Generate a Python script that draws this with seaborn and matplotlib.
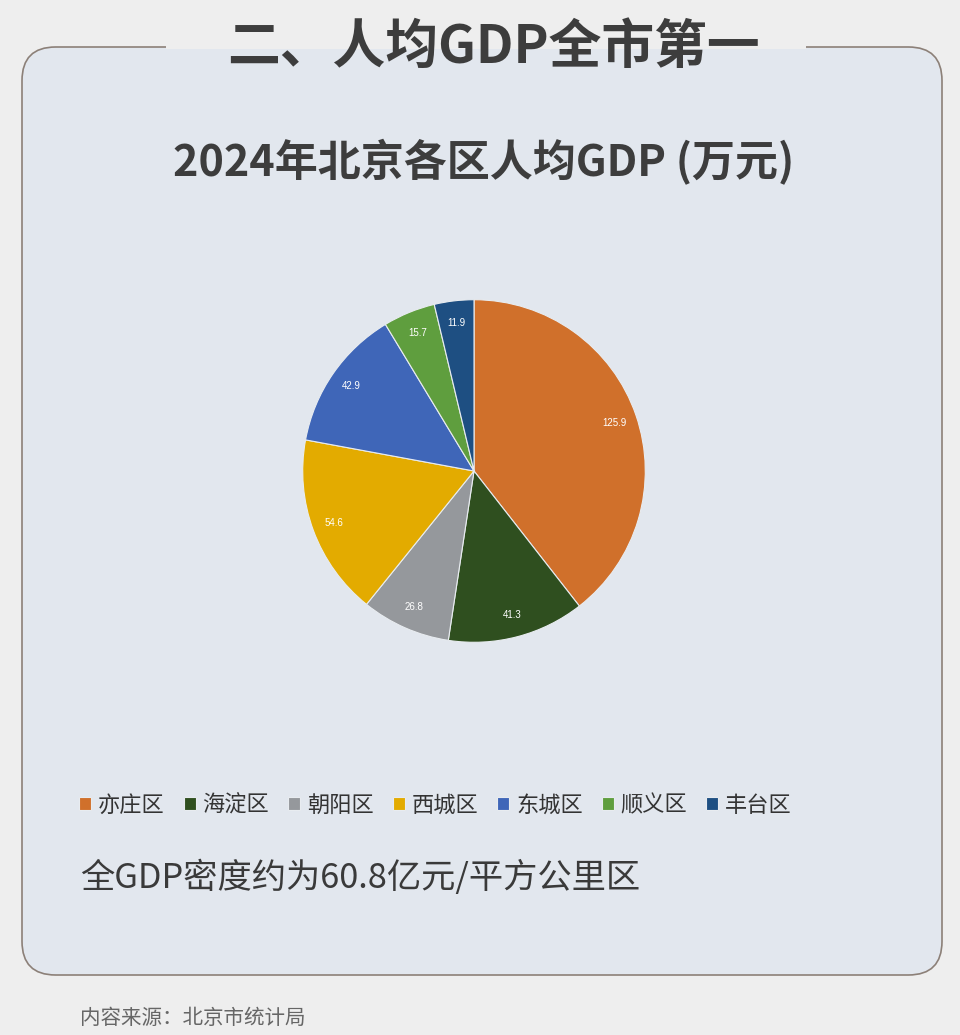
import numpy as np
import pandas as pd
import matplotlib
matplotlib.use("Agg")
import matplotlib.pyplot as plt
import seaborn as sns
from matplotlib.patches import FancyBboxPatch, Rectangle

# data
districts = ["亦庄区", "海淀区", "朝阳区", "西城区", "东城区", "顺义区", "丰台区"]
gdp_per_capita = [125.9, 41.3, 26.8, 54.6, 42.9, 15.7, 11.9]
slice_colors = ["#d0702b", "#2f4f1f", "#95989c", "#e3ab00", "#3f66b8", "#5f9e3e", "#1e4f82"]

title_main = "二、人均GDP全市第一"
title_chart = "2024年北京各区人均GDP (万元)"
note = "全GDP密度约为60.8亿元/平方公里区"
source = "内容来源：北京市统计局"

df = pd.DataFrame({"district": districts, "gdp": gdp_per_capita})

sns.set_theme(style="white")
plt.rcParams['font.family'] = ['Noto Sans CJK SC', 'DejaVu Sans']

W, H = 960, 1035
fig = plt.figure(figsize=(W / 100, H / 100), dpi=100)
fig.patch.set_facecolor("#eeeeee")

def fx(px):
    return px / W

def fy(py):
    return 1 - py / H

# card
card = FancyBboxPatch((fx(22), fy(975)), fx(942) - fx(22), fy(47) - fy(975),
                      boxstyle="round,pad=0,rounding_size=0.035",
                      transform=fig.transFigure, facecolor="#e2e7ee",
                      edgecolor="#8c8078", linewidth=1.2, mutation_aspect=W / H,
                      zorder=-2)
fig.patches.append(card)
# gap in border behind the title
gap = Rectangle((fx(166), fy(49)), fx(806) - fx(166), fy(42) - fy(49),
                transform=fig.transFigure, facecolor="#eeeeee", edgecolor="none",
                zorder=-1)
fig.patches.append(gap)

fig.text(fx(493), fy(47), title_main, ha="center", va="center", fontsize=38,
         fontweight="bold", color="#3d3d3d")
fig.text(fx(484), fy(162), title_chart, ha="center", va="center", fontsize=31,
         fontweight="bold", color="#3d3d3d")

# pie
cx, cy, r = 474, 471, 173
ax = fig.add_axes([fx(cx - r), fy(cy + r), fx(2 * r), fy(cy - r) - fy(cy + r)])
ax.set_zorder(3)
ax.patch.set_alpha(0)
palette = sns.color_palette(slice_colors)
total = df["gdp"].sum()
wedges, texts, autotexts = ax.pie(
    df["gdp"], colors=palette, startangle=90, counterclock=False, radius=1,
    autopct=lambda p: f"{p * total / 100:.1f}", pctdistance=0.87,
    wedgeprops=dict(edgecolor="#e8ecf0", linewidth=0.8),
    textprops=dict(color="white", fontsize=7, family=["Liberation Sans", "DejaVu Sans"]))
ax.set_xlim(-1.01, 1.01)
ax.set_ylim(-1.01, 1.01)
ax.set_aspect("equal")
ax.axis("off")

fig.legend(wedges, df["district"], ncol=7, loc="center left",
           bbox_to_anchor=(fx(59), fy(805)), frameon=False, fontsize=16,
           handlelength=0.55, handleheight=0.55, handletextpad=0.3,
           columnspacing=0.85, labelcolor="#333333")

fig.text(fx(80), fy(878), note, ha="left", va="center", fontsize=24.7, color="#3a3a3a")
fig.text(fx(80), fy(1018), source, ha="left", va="center", fontsize=14.8, color="#666666")

fig.savefig("out.png", dpi=100, facecolor=fig.get_facecolor())
